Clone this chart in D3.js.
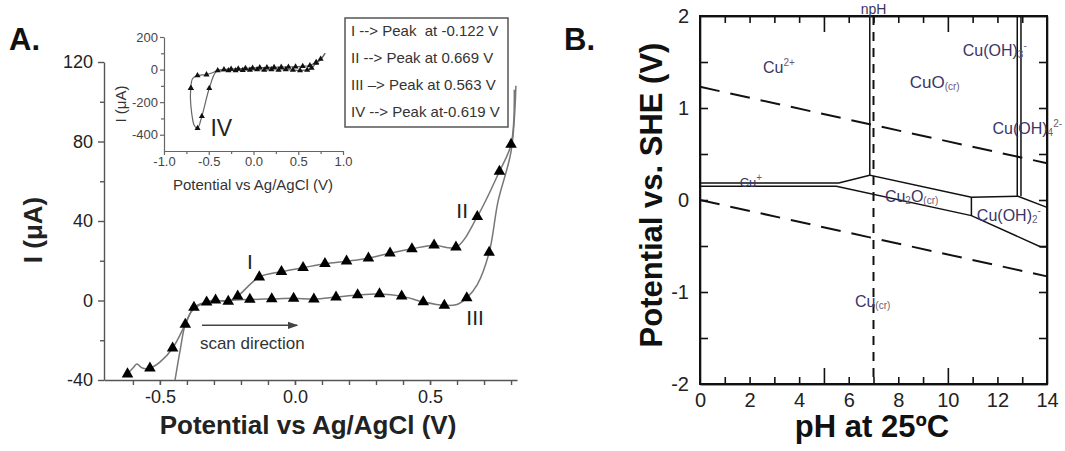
<!DOCTYPE html>
<html><head><meta charset="utf-8">
<script src="https://cdn.jsdelivr.net/npm/d3@7"></script>
<style>body{margin:0;background:#fff}</style>
</head><body><svg id="c" width="1065" height="451"></svg>
<script>
// ---------------- DATA ----------------
// Panel A main CV: [potential V, current uA, marker(1/0)]
const forwardScan = [[-0.62,-37,1],[-0.6,-34,0],[-0.585,-32,0],[-0.565,-34,0],[-0.537,-34,1],[-0.5,-31,0],[-0.453,-24,1],[-0.406,-12,1],[-0.374,-3.5,1],[-0.327,-0.8,1],[-0.294,0.2,1],[-0.247,-0.5,1],[-0.212,2.2,1],[-0.132,11.8,1],[-0.05,14.5,1],[0.03,16.5,1],[0.111,18.5,1],[0.191,19.8,1],[0.272,21.3,1],[0.352,23.8,1],[0.433,26,1],[0.515,27.8,1],[0.596,26.8,1],[0.675,42.2,1],[0.757,65,1],[0.8,78.5,1],[0.812,106,0]];
const reverseScan = [[0.818,108,0],[0.8,75,0],[0.752,50,0],[0.719,24.2,1],[0.675,8,0],[0.636,1.3,1],[0.6,-2,0],[0.553,-2.5,1],[0.475,-0.7,1],[0.395,2.2,1],[0.313,3.3,1],[0.232,2.8,1],[0.152,1.7,1],[0.07,0.7,1],[-0.005,1.1,1],[-0.086,0.8,1],[-0.167,0.5,1],[-0.25,0,0],[-0.33,-1,0],[-0.38,-5,0],[-0.406,-12,0],[-0.425,-25,0],[-0.444,-40,0]];
const aXMinor = [-0.6,-0.5,-0.4,-0.3,-0.2,-0.1,0,0.1,0.2,0.3,0.4,0.5,0.6,0.7,0.8];
const aXLabels = [-0.5,0,0.5];
const aYLabels = [-40,0,40,80,120];
const aYMinor = [-20,20,60,100];
const peakLegend = ["I --> Peak  at -0.122 V","II --> Peak at 0.669 V","III \u2013> Peak at 0.563 V","IV --> Peak at-0.619 V"];
const peakLabels = [["I",-0.167,19.5],["II",0.619,45.5],["III",0.667,-8.5]];

// Inset CV
const insetReverse = [[0.8,100,0],[0.75,60,0],[0.7,40,1],[0.65,10,1],[0.6,-2,1],[0.52,-5,1],[0.44,-3,1],[0.36,0,1],[0.28,-2,1],[0.2,0,1],[0.12,-3,1],[0.04,0,1],[-0.04,-3,1],[-0.12,-4,1],[-0.2,-5,1],[-0.28,-6,1],[-0.36,-8,0],[-0.42,-15,0],[-0.494,-115,1],[-0.577,-287,1],[-0.625,-360,1],[-0.66,-345,0],[-0.69,-270,0],[-0.705,-170,0],[-0.7,-115,1]];
const insetForward = [[-0.7,-115,1],[-0.68,-55,0],[-0.626,-37,1],[-0.575,-33,0],[-0.525,-31,1],[-0.45,-18,0],[-0.4,-5,1],[-0.33,0,1],[-0.25,3,1],[-0.17,5,1],[-0.09,8,1],[-0.01,10,1],[0.07,12,1],[0.15,13,1],[0.23,14,1],[0.31,15,1],[0.39,16,1],[0.47,18,1],[0.55,20,1],[0.63,25,1],[0.7,45,1],[0.75,65,1],[0.8,100,0]];
const inXLabels = [-1,-0.5,0,0.5,1];
const inXMinor = [-0.75,-0.25,0.25,0.75];
const inYLabels = [200,0,-200,-400];
const inYMinor = [100,-100,-300];

// Panel B Pourbaix diagram: polylines [pH, V]
const bXLabels = [0,2,4,6,8,10,12,14];
const bXMinor = [1,2,3,4,6,7,8,9,11,12,13];
const bXMajor = [5,10];
const bYLabels = [-2,-1,0,1,2];
const bYMinor = [-1.5,-1,-0.5,0,0.5,1,1.5];
const solidBoundaries = [
  [[0,0.185],[5.6,0.185],[6.85,0.27]],
  [[0,0.15],[5.5,0.15],[10.95,-0.17],[13.75,-0.51],[14,-0.51]],
  [[6.85,2],[6.85,0.27],[10.95,0.03],[12.83,0.04],[14,-0.08]],
  [[10.95,0.03],[10.95,-0.17]],
  [[12.8,2],[12.8,0.04]],
  [[12.95,2],[12.95,0.04]]
];
const waterLines = [[[0,1.23],[14,0.40]],[[0,0],[14,-0.83]]];
const npHLine = [[7,2],[7,-2]];
// species labels: [main, sub, sup, pH, V, size, tail]
const species = [
  ["Cu","","2+",2.54,1.446,16],
  ["CuO","(cr)","",8.46,1.28,17],
  ["Cu(OH)","3","-",10.6,1.63,16],
  ["Cu(OH)","4","2-",11.8,0.78,16],
  ["Cu","","+",1.6,0.196,13],
  ["Cu","2","",7.46,0.04,16,"O(cr)"],
  ["Cu(OH)","2","-",11.17,-0.16,16],
  ["Cu","(cr)","",6.25,-1.1,16]
];

// ---------------- DRAW ----------------
const FONT = '"Liberation Sans", Arial, Helvetica, sans-serif';
const svg = d3.select("#c").attr("font-family", FONT);
const fmt1 = d => d.toFixed(1);

function styleAxis(g, size, color, stroke, sw) {
  g.attr("font-family", FONT);
  g.selectAll("path.domain").attr("stroke", stroke).attr("stroke-width", sw);
  g.selectAll(".tick line").attr("stroke", stroke).attr("stroke-width", sw);
  g.selectAll(".tick text").attr("font-size", size).attr("fill", color);
}

// ===== Panel A main =====
const xA = d3.scaleLinear().domain([-0.707, 0.822]).range([104, 517]);
const yA = d3.scaleLinear().domain([-40, 120]).range([380, 62]);
const gA = svg.append("g");

let ax = gA.append("g").attr("transform", `translate(0,${yA(-40)})`)
  .call(d3.axisBottom(xA).tickValues(aXMinor).tickSize(5).tickSizeOuter(0).tickFormat(""));
styleAxis(ax, 18, "#222", "#555", 1.4);
ax = gA.append("g").attr("transform", `translate(0,${yA(-40)})`)
  .call(d3.axisBottom(xA).tickValues(aXLabels).tickSize(5).tickPadding(5).tickSizeOuter(0).tickFormat(fmt1));
ax.select("path.domain").remove();
styleAxis(ax, 18, "#222", "#555", 1.4);

let ay = gA.append("g").attr("transform", `translate(${xA(-0.707)},0)`)
  .call(d3.axisLeft(yA).tickValues(aYMinor).tickSize(4).tickSizeOuter(0).tickFormat(""));
styleAxis(ay, 18, "#222", "#555", 1.4);
ay = gA.append("g").attr("transform", `translate(${xA(-0.707)},0)`)
  .call(d3.axisLeft(yA).tickValues(aYLabels).tickSize(6).tickPadding(5).tickSizeOuter(0).tickFormat(d => d));
ay.select("path.domain").remove();
styleAxis(ay, 18, "#222", "#555", 1.4);

const lineA = d3.line().x(d => xA(d[0])).y(d => yA(d[1])).curve(d3.curveCatmullRom.alpha(0.5));
[forwardScan, reverseScan].forEach(s => {
  gA.append("path").attr("d", lineA(s)).attr("fill", "none").attr("stroke", "#777").attr("stroke-width", 1.5);
});
const tri = d3.symbol().type(d3.symbolTriangle).size(58);
[forwardScan, reverseScan].forEach(s => {
  gA.selectAll(null).data(s.filter(d => d[2])).enter().append("path")
    .attr("d", tri).attr("transform", d => `translate(${xA(d[0])},${yA(d[1])})`).attr("fill", "#000");
});

peakLabels.forEach(p => {
  gA.append("text").attr("x", xA(p[1])).attr("y", yA(p[2])).attr("text-anchor", "middle")
    .attr("dominant-baseline", "central").attr("font-size", 21).attr("fill", "#222").text(p[0]);
});

// scan direction arrow
gA.append("defs").append("marker").attr("id", "arr").attr("viewBox", "0 0 10 10").attr("refX", 9).attr("refY", 5)
  .attr("markerWidth", 7).attr("markerHeight", 7).attr("orient", "auto")
  .append("path").attr("d", "M0,1.5L10,5L0,8.5Z").attr("fill", "#444");
gA.append("line").attr("x1", xA(-0.344)).attr("x2", xA(0.008)).attr("y1", yA(-12.5)).attr("y2", yA(-12.5))
  .attr("stroke", "#444").attr("stroke-width", 1.5).attr("marker-end", "url(#arr)");
gA.append("text").attr("x", xA(-0.352)).attr("y", yA(-24.5)).attr("font-size", 17).attr("fill", "#333").text("scan direction");

// axis titles
gA.append("text").attr("x", 308).attr("y", 434).attr("text-anchor", "middle").attr("font-size", 26)
  .attr("font-weight", "bold").attr("fill", "#222").text("Potential vs Ag/AgCl (V)");
gA.append("text").attr("transform", "translate(33,230) rotate(-90)").attr("text-anchor", "middle")
  .attr("dominant-baseline", "central").attr("font-size", 26).attr("font-weight", "bold").attr("fill", "#222").text("I (\u03bcA)");
svg.append("text").attr("x", 9).attr("y", 50).attr("font-size", 31).attr("font-weight", "bold").attr("fill", "#111").text("A.");

// legend box
const lg = gA.append("g");
lg.append("rect").attr("x", 345).attr("y", 18).attr("width", 163).attr("height", 109)
  .attr("fill", "#fff").attr("stroke", "#555").attr("stroke-width", 1.5);
peakLegend.forEach((t, i) => {
  lg.append("text").attr("x", 351).attr("y", 30 + i * 27.3).attr("dominant-baseline", "central")
    .attr("font-size", 15).attr("fill", "#333").attr("xml:space", "preserve").style("white-space", "pre").text(t);
});

// ===== Inset =====
const xI = d3.scaleLinear().domain([-1, 1]).range([164, 343]);
const yI = d3.scaleLinear().domain([-500, 200]).range([151, 37]);
const gI = svg.append("g");
let ix = gI.append("g").attr("transform", `translate(0,${yI(-500)})`)
  .call(d3.axisBottom(xI).tickValues(inXMinor).tickSize(3).tickSizeOuter(0).tickFormat(""));
styleAxis(ix, 12, "#444", "#666", 1.2);
ix = gI.append("g").attr("transform", `translate(0,${yI(-500)})`)
  .call(d3.axisBottom(xI).tickValues(inXLabels).tickSize(4).tickPadding(2).tickSizeOuter(0).tickFormat(fmt1));
ix.select("path.domain").remove();
styleAxis(ix, 13, "#444", "#666", 1.2);
let iy = gI.append("g").attr("transform", `translate(${xI(-1)},0)`)
  .call(d3.axisLeft(yI).tickValues(inYMinor).tickSize(3).tickSizeOuter(0).tickFormat(""));
styleAxis(iy, 12, "#444", "#666", 1.2);
iy = gI.append("g").attr("transform", `translate(${xI(-1)},0)`)
  .call(d3.axisLeft(yI).tickValues(inYLabels).tickSize(4).tickPadding(2).tickSizeOuter(0).tickFormat(d => d));
iy.select("path.domain").remove();
styleAxis(iy, 13, "#444", "#666", 1.2);

const lineI = d3.line().x(d => xI(d[0])).y(d => yI(d[1])).curve(d3.curveCatmullRom.alpha(0.5));
[insetReverse, insetForward].forEach(s => {
  gI.append("path").attr("d", lineI(s)).attr("fill", "none").attr("stroke", "#666").attr("stroke-width", 1.2);
});
const triS = d3.symbol().type(d3.symbolTriangle).size(16);
[insetReverse, insetForward].forEach(s => {
  gI.selectAll(null).data(s.filter(d => d[2])).enter().append("path")
    .attr("d", triS).attr("transform", d => `translate(${xI(d[0])},${yI(d[1])})`).attr("fill", "#111");
});
gI.append("text").attr("x", xI(-0.36)).attr("y", yI(-360)).attr("text-anchor", "middle").attr("dominant-baseline", "central")
  .attr("font-size", 23).attr("fill", "#222").text("IV");
gI.append("text").attr("x", 253).attr("y", 184).attr("text-anchor", "middle").attr("dominant-baseline", "central")
  .attr("font-size", 15).attr("fill", "#333").text("Potential vs Ag/AgCl (V)");
gI.append("text").attr("transform", "translate(120,104) rotate(-90)").attr("text-anchor", "middle")
  .attr("dominant-baseline", "central").attr("font-size", 15).attr("fill", "#333").text("I (\u03bcA)");

// ===== Panel B =====
const xB = d3.scaleLinear().domain([0, 14]).range([700, 1047]);
const yB = d3.scaleLinear().domain([-2, 2]).range([384, 16]);
const gB = svg.append("g");
const BC = "#111";

// inward ticks
const tk = (g, axisFn, vals, size) => g.call(axisFn.tickValues(vals).tickSize(size).tickSizeOuter(0).tickFormat(""));
[[`translate(0,${yB(-2)})`, d3.axisTop(xB)], [`translate(0,${yB(2)})`, d3.axisBottom(xB)]].forEach(([tr, fn]) => {
  let g = gB.append("g").attr("transform", tr); tk(g, fn, bXMinor, 7); styleAxis(g, 20, "#222", BC, 1.6);
  g = gB.append("g").attr("transform", tr); tk(g, fn, bXMajor, 16); styleAxis(g, 20, "#222", BC, 1.6);
});
[[`translate(${xB(0)},0)`, d3.axisRight(yB)], [`translate(${xB(14)},0)`, d3.axisLeft(yB)]].forEach(([tr, fn]) => {
  const g = gB.append("g").attr("transform", tr); tk(g, fn, bYMinor, 8); styleAxis(g, 20, "#222", BC, 1.6);
});
// labels
let bx = gB.append("g").attr("transform", `translate(0,${yB(-2)})`)
  .call(d3.axisBottom(xB).tickValues(bXLabels).tickSize(0).tickPadding(9).tickFormat(d => d));
bx.select("path.domain").remove(); styleAxis(bx, 20, "#222", BC, 1.6);
let by = gB.append("g").attr("transform", `translate(${xB(0)},0)`)
  .call(d3.axisLeft(yB).tickValues(bYLabels).tickSize(0).tickPadding(11).tickFormat(d => d));
by.select("path.domain").remove(); styleAxis(by, 20, "#222", BC, 1.6);

// frame
gB.append("rect").attr("x", xB(0)).attr("y", yB(2)).attr("width", xB(14) - xB(0)).attr("height", yB(-2) - yB(2))
  .attr("fill", "none").attr("stroke", BC).attr("stroke-width", 2);

const lineB = d3.line().x(d => xB(d[0])).y(d => yB(d[1]));
solidBoundaries.forEach(s => gB.append("path").attr("d", lineB(s)).attr("fill", "none").attr("stroke", BC).attr("stroke-width", 1.5));
waterLines.forEach(s => gB.append("path").attr("d", lineB(s)).attr("fill", "none").attr("stroke", BC)
  .attr("stroke-width", 2).attr("stroke-dasharray", "20,11"));
gB.append("path").attr("d", lineB(npHLine)).attr("fill", "none").attr("stroke", BC).attr("stroke-width", 2).attr("stroke-dasharray", "9,7");
gB.append("text").attr("x", xB(7)).attr("y", 9).attr("text-anchor", "middle").attr("dominant-baseline", "central")
  .attr("font-size", 14).attr("fill", "#3a3466").text("npH");

species.forEach(s => {
  const t = gB.append("text").attr("x", xB(s[3])).attr("y", yB(s[4])).attr("dominant-baseline", "central")
    .attr("font-size", s[5]).attr("fill", "#3a3466");
  t.append("tspan").text(s[0]);
  if (s[1]) t.append("tspan").attr("font-size", 10).attr("dy", 4).attr("fill", "#6d5a70").text(s[1]);
  if (s[6]) t.append("tspan").attr("dy", -4).text(s[6].slice(0,1)).append("tspan").attr("font-size", 10).attr("dy", 4).attr("fill", "#6d5a70").text(s[6].slice(1));
  if (s[2]) t.append("tspan").attr("font-size", 10).attr("dy", s[1] ? -9 : -5).attr("fill", "#6d5a70").text(s[2]);
});

gB.append("text").attr("x", 872).attr("y", 437).attr("text-anchor", "middle").attr("font-size", 31)
  .attr("font-weight", "bold").attr("fill", "#111").text("pH at 25\u00baC");
gB.append("text").attr("transform", "translate(651,195) rotate(-90)").attr("text-anchor", "middle")
  .attr("dominant-baseline", "central").attr("font-size", 31).attr("font-weight", "bold").attr("fill", "#111").text("Potential vs. SHE (V)");
svg.append("text").attr("x", 564).attr("y", 50).attr("font-size", 31).attr("font-weight", "bold").attr("fill", "#111").text("B.");
</script></body></html>
